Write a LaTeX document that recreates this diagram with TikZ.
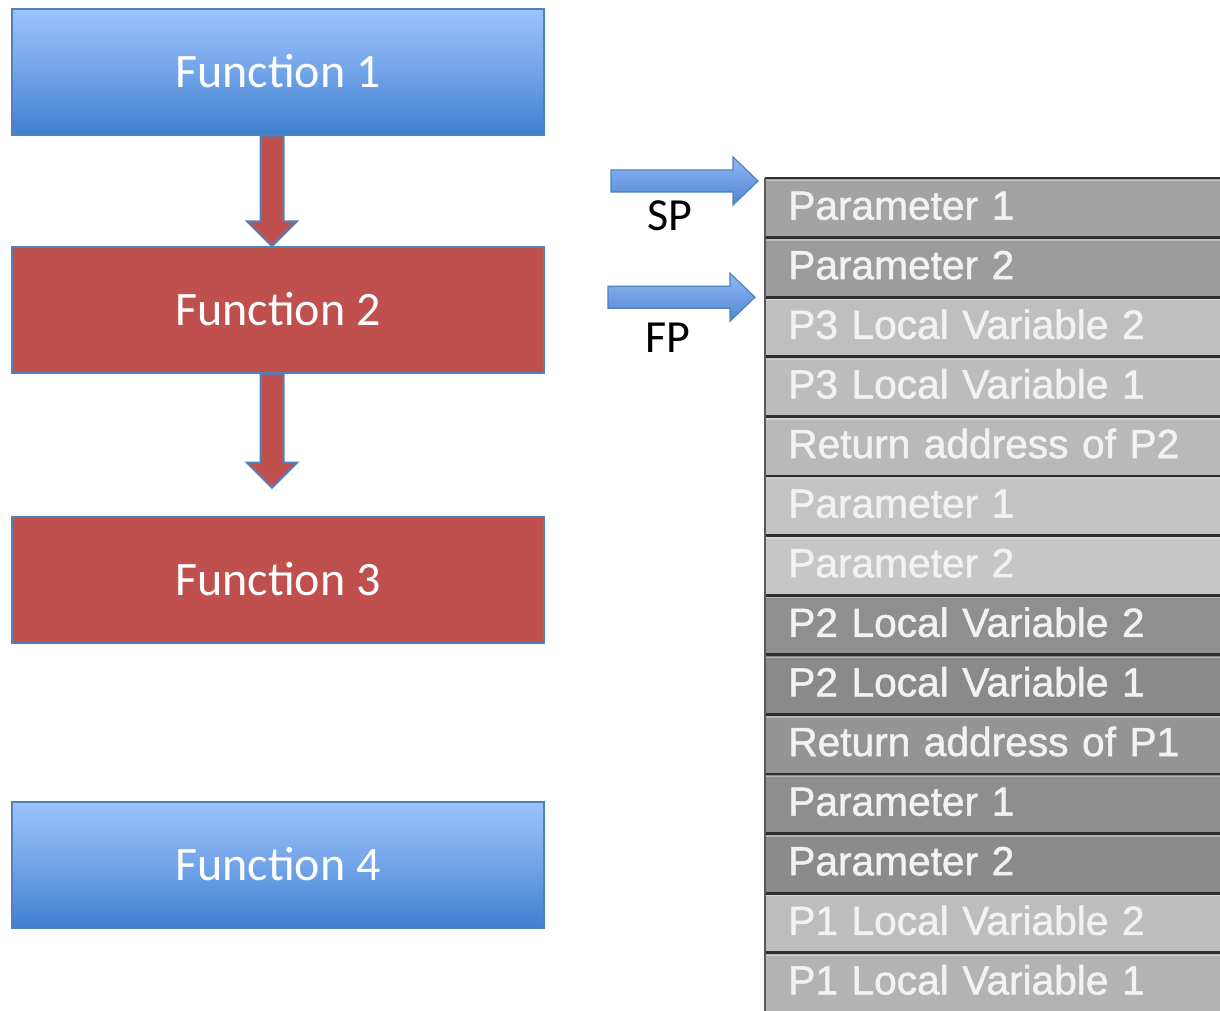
\documentclass[tikz,border=0pt]{standalone}
\usepackage{fontspec}
\setmainfont{Carlito}
\newfontfamily\stackfont[FakeBold=1.2]{Liberation Sans}
\usetikzlibrary{calc}

\definecolor{fnred}{HTML}{C0504D}
\definecolor{fnedge}{HTML}{4F81BD}
\definecolor{fntop}{HTML}{9CC2FD}
\definecolor{fnbot}{HTML}{3E7FCF}
\definecolor{ptrtop}{HTML}{92B8F4}
\definecolor{ptrbot}{HTML}{4E86D2}
\definecolor{sepline}{HTML}{2E2E2E}
\definecolor{stacktext}{HTML}{F2F2F2}

\begin{document}
\begin{tikzpicture}[x=0.75pt,y=-0.75pt,
  fnbox/.style={draw=fnedge, line width=1.1pt, minimum width=399pt,
    minimum height=94.5pt, inner sep=0pt, text=white,
    font=\fontsize{36}{36}\selectfont, text height=23.2pt, text depth=0pt},
  bluefn/.style={fnbox, top color=fntop, bottom color=fnbot, middle color=fntop!55!fnbot},
  redfn/.style={fnbox, fill=fnred},
  blockarrow/.style={fill=fnred, draw=fnedge, line width=1.5pt, line join=miter},
  ptr/.style={draw=fnedge, line width=0.9pt, top color=ptrtop, bottom color=ptrbot, line join=miter},
  ptrlabel/.style={inner sep=0pt, anchor=base, font=\fontsize{34.5}{34.5}\selectfont},
  stackrow/.style={anchor=north west, inner xsep=17.25pt, inner ysep=0pt,
    text width=306.75pt, align=left, minimum height=44.7pt,
    text=stacktext, font=\stackfont\fontsize{30.5}{30.5}\selectfont,
    text height=21.8pt, text depth=4.5pt},
  sep/.style={draw=sepline, line width=2.2pt},
  hilite/.style={draw=white, opacity=0.35, line width=1pt}]

\useasboundingbox (0,0) rectangle (1220,1010);

% call chain of functions
\node[bluefn] (f1) at (278,72)  {Function 1};
\node[redfn]  (f2) at (278,310) {Function 2};
\node[redfn]  (f3) at (278,580) {Function 3};
\node[bluefn] (f4) at (278,865) {Function 4};

% block arrows: Function 1 calls Function 2, Function 2 calls Function 3
\draw[blockarrow] ($(f1.south)+(-17.5,0)$) -- ($(f2.north)+(-17.5,-25)$)
  -- ($(f2.north)+(-31,-25)$) -- ($(f2.north)+(-6,0)$)
  -- ($(f2.north)+(19,-25)$) -- ($(f2.north)+(5.5,-25)$)
  -- ($(f1.south)+(5.5,0)$) -- cycle;
\coordinate (call2) at ($(f2.south)+(-6,114)$);
\draw[blockarrow] ($(f2.south)+(-17.5,0)$) -- ($(call2)+(-11.5,-25)$)
  -- ($(call2)+(-25,-25)$) -- (call2)
  -- ($(call2)+(25,-25)$) -- ($(call2)+(11.5,-25)$)
  -- ($(f2.south)+(5.5,0)$) -- cycle;

% the stack, top of stack first
\foreach \c/\t [count=\i] in {
  A3A3A3/Parameter 1, 9C9C9C/Parameter 2,
  BFBFBF/P3 Local Variable 2, BCBCBC/P3 Local Variable 1,
  B9B9B9/Return address of P2,
  C3C3C3/Parameter 1, C6C6C6/Parameter 2,
  8F8F8F/P2 Local Variable 2, 8A8A8A/P2 Local Variable 1,
  949494/Return address of P1,
  8E8E8E/Parameter 1, 8B8B8B/Parameter 2,
  BDBDBD/P1 Local Variable 2, B3B3B3/P1 Local Variable 1}{
  \definecolor{rowc}{HTML}{\c}
  \node[stackrow, fill=rowc] (r\i) at (765,{178+59.6*(\i-1)}) {\t};
}
\foreach \i in {1,...,14}{
  \draw[hilite] ($(r\i.north west)+(0,2.5)$) -- ($(r\i.north east)+(0,2.5)$);
  \draw[sep] (r\i.north west) -- (r\i.north east);
}
\draw[draw=sepline!80, line width=1.3pt] (r1.north west) -- (r14.south west);

% stack pointer and frame pointer
\coordinate (sptip) at ($(r1.north west)+(-7,3)$);
\coordinate (sptail) at ($(sptip)+(-147,0)$);
\draw[ptr] ($(sptail)+(0,-11)$) -- ($(sptip)+(-25,-11)$) -- ($(sptip)+(-25,-24)$)
  -- (sptip) -- ($(sptip)+(-25,24)$) -- ($(sptip)+(-25,11)$)
  -- ($(sptail)+(0,11)$) -- cycle;
\node[ptrlabel] (sp) at (670,230) {SP};

\coordinate (fptip) at ($(r3.north west)+(-10,0)$);
\coordinate (fptail) at ($(fptip)+(-147,0)$);
\draw[ptr] ($(fptail)+(0,-11)$) -- ($(fptip)+(-25,-11)$) -- ($(fptip)+(-25,-24)$)
  -- (fptip) -- ($(fptip)+(-25,24)$) -- ($(fptip)+(-25,11)$)
  -- ($(fptail)+(0,11)$) -- cycle;
\node[ptrlabel] (fp) at (668,352) {FP};
\end{tikzpicture}
\end{document}
